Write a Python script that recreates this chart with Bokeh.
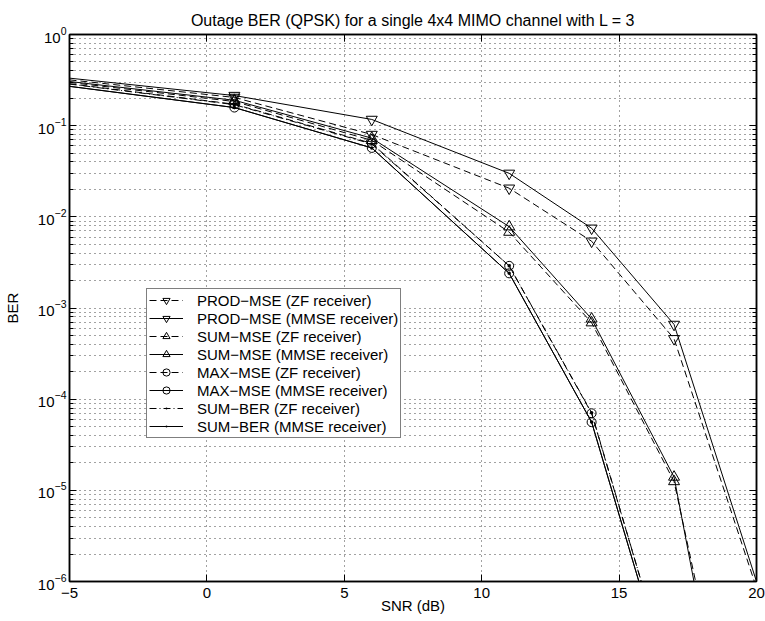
from bokeh.plotting import figure
from bokeh.models import (FixedTicker, LogAxis, LinearAxis, Legend, LegendItem,
                          Range1d)
from bokeh.embed import file_html
from bokeh.resources import INLINE

# ---------------- data ----------------
snr = [-5, 1, 6, 11, 14, 17, 20]

prod_mse_zf   = [0.318, 0.204, 0.080, 0.0206, 0.0054, 4.6e-4, 8.5e-7]
prod_mse_mmse = [0.332, 0.214, 0.117, 0.0300, 0.0075, 6.6e-4, 1.0e-6]
sum_mse_zf    = [0.298, 0.184, 0.069, 0.0068, 6.9e-4, 1.25e-5, 8e-10]
sum_mse_mmse  = [0.305, 0.190, 0.073, 0.0078, 7.6e-4, 1.40e-5, 2.5e-10]
max_mse_zf    = [0.288, 0.172, 0.064, 0.0029, 7.0e-5, 6e-8, 5e-11]
max_mse_mmse  = [0.270, 0.158, 0.057, 0.0024, 5.6e-5, 5e-8, 4e-11]
sum_ber_zf    = [0.286, 0.170, 0.063, 0.0029, 7.1e-5, 6e-8, 5e-11]
sum_ber_mmse  = [0.270, 0.158, 0.057, 0.0024, 5.6e-5, 5e-8, 4e-11]

labels = ["PROD−MSE (ZF receiver)", "PROD−MSE (MMSE receiver)",
          "SUM−MSE (ZF receiver)", "SUM−MSE (MMSE receiver)",
          "MAX−MSE (ZF receiver)", "MAX−MSE (MMSE receiver)",
          "SUM−BER (ZF receiver)", "SUM−BER (MMSE receiver)"]

x_ticks = [-5, 0, 5, 10, 15, 20]
x_tick_labels = ["−5", "0", "5", "10", "15", "20"]
y_exponents = [-6, -5, -4, -3, -2, -1, 0]

title_text = "Outage BER (QPSK) for a single 4x4 MIMO channel with L = 3"

FONT = "Liberation Sans"

# ---------------- figure ----------------
p = figure(width=765, height=621, y_axis_type="log",
           x_range=Range1d(-5, 20), y_range=Range1d(1e-6, 1),
           output_backend="svg", toolbar_location=None,
           min_border_left=66, min_border_right=9,
           min_border_top=34, min_border_bottom=40,
           background_fill_color="white", border_fill_color="white")

p.title.text = title_text
p.title.align = "center"
p.title.text_font = FONT
p.title.text_font_size = "16px"
p.title.text_font_style = "normal"
p.title.text_color = "black"
p.title.standoff = 12

p.outline_line_color = "black"
p.outline_line_width = 1.5

y_major = [10.0 ** e for e in y_exponents]
y_minor = [k * 10.0 ** e for e in y_exponents[:-1] for k in range(2, 10)]
xt = FixedTicker(ticks=x_ticks)
yt = FixedTicker(ticks=y_major, minor_ticks=y_minor)

p.xaxis.ticker = xt
p.yaxis.ticker = yt
p.xaxis.major_label_overrides = dict(zip(x_ticks, x_tick_labels))

for ax in p.axis:
    ax.axis_line_color = "black"
    ax.axis_line_width = 1.5
    ax.major_tick_in = 7
    ax.major_tick_out = 0
    ax.minor_tick_in = 4
    ax.minor_tick_out = 0
    ax.major_tick_line_color = "black"
    ax.minor_tick_line_color = "black"
    ax.major_label_text_font = FONT
    ax.major_label_text_font_size = "15px"
    ax.major_label_text_color = "black"
    ax.axis_label_text_font = FONT
    ax.axis_label_text_font_size = "15px"
    ax.axis_label_text_font_style = "normal"
    ax.axis_label_text_color = "black"

p.xaxis.minor_tick_line_color = None
p.xaxis.axis_label = "SNR (dB)"
p.xaxis.major_label_standoff = 6
p.xaxis.axis_label_standoff = -4
p.yaxis.axis_label = "BER"
p.yaxis.major_label_standoff = 3
p.yaxis.axis_label_standoff = 14

# box ticks on top and right
top = LinearAxis(ticker=xt, major_tick_in=7, major_tick_out=0,
                 minor_tick_line_color=None, axis_line_color="black",
                 axis_line_width=1.5, major_label_text_color=None,
                 major_label_text_font_size="1px", major_label_standoff=0)
right = LogAxis(ticker=yt, major_tick_in=7, major_tick_out=0,
                minor_tick_in=4, minor_tick_out=0, axis_line_color="black",
                axis_line_width=1.5, major_label_text_color=None,
                major_label_text_font_size="1px", major_label_standoff=0)
p.add_layout(top, "above")
p.add_layout(right, "right")

# grid
for g in (p.xgrid, p.ygrid):
    g.grid_line_color = "#444444"
    g.grid_line_dash = "1 4"
    g.grid_line_width = 1
p.ygrid.minor_grid_line_color = "#444444"
p.ygrid.minor_grid_line_dash = "1 4"

# ---------------- series ----------------
series = [
    (prod_mse_zf, "inverted_triangle", 11, "7 4"),
    (prod_mse_mmse, "inverted_triangle", 11, "solid"),
    (sum_mse_zf, "triangle", 11, "7 4"),
    (sum_mse_mmse, "triangle", 11, "solid"),
    (max_mse_zf, "circle", 9, "7 4"),
    (max_mse_mmse, "circle", 9, "solid"),
    (sum_ber_zf, "dot", 14, "7 3 1 3"),
    (sum_ber_mmse, "dot", 14, "solid"),
]

items = []
for (vals, marker, size, dash), lab in zip(series, labels):
    lr = p.line(snr, vals, line_color="black", line_width=1, line_dash=dash)
    sr = p.scatter(snr[1:-1], vals[1:-1], marker=marker, size=size,
                   line_color="black", line_width=1,
                   fill_color="black" if marker == "dot" else None)
    items.append(LegendItem(label=lab, renderers=[lr, sr]))

legend = Legend(items=items, location=(77, 143),
                border_line_color="black", border_line_width=1.5,
                background_fill_color="white", background_fill_alpha=1,
                label_text_font=FONT, label_text_font_size="15px",
                label_text_color="black",
                glyph_width=34, glyph_height=18, label_height=17,
                spacing=0, padding=2, margin=0, label_standoff=14)
p.add_layout(legend)

open("out.html", "w").write(file_html(p, INLINE))
